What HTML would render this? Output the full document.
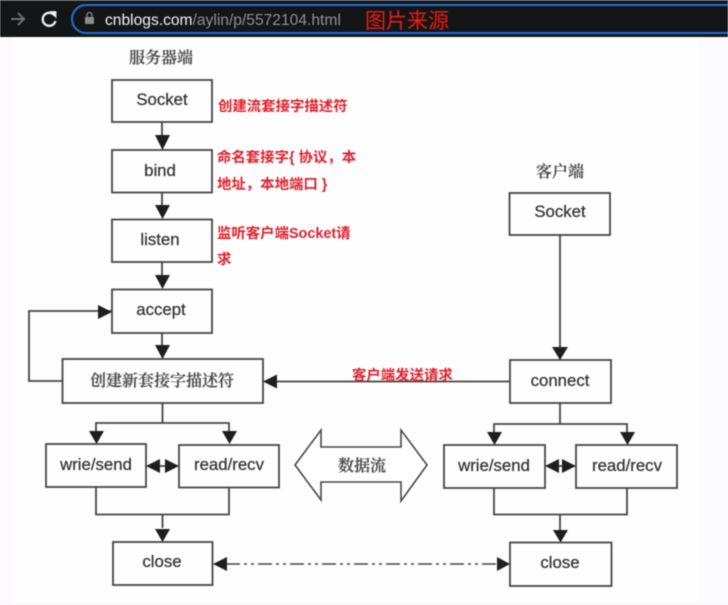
<!DOCTYPE html>
<html><head><meta charset="utf-8">
<style>
html,body{margin:0;padding:0;background:#fff}
svg{display:block}
.b{filter:blur(.5px)}
.l{font-family:"Liberation Sans",sans-serif;font-size:16.8px;fill:#333;stroke:#333;stroke-width:.25px;text-anchor:middle}
.c{font-family:"Noto Serif CJK SC","Noto Sans CJK SC",serif;font-size:16px;fill:#4a4a4a;stroke:#4a4a4a;stroke-width:.2px;text-anchor:middle;font-weight:600}
.r{font-family:"Liberation Sans","Noto Sans CJK SC",sans-serif;font-size:14.400px;font-weight:700;fill:#e0202c}
</style></head>
<body>
<svg width="728" height="605" viewBox="0 0 728 605" xmlns="http://www.w3.org/2000/svg">
<rect width="728" height="605" fill="#fefefe"/>
<rect x="0" y="37" width="13" height="568" fill="#fcfafc"/>
<rect x="699" y="37" width="29" height="568" fill="#fcfcfe"/>
<rect x="0" y="602" width="728" height="3" fill="#fbf9fb"/>
<g class="b">
<!-- browser bar -->
<rect width="728" height="37" fill="#141516"/>
<rect width="728" height="1" fill="#444"/>
<path d="M11 19H23M18 13L24 19L18 25" fill="none" stroke="#6f7072" stroke-width="2"/>
<path d="M54.5 15.500A6.500 6.500 0 1 0 55.500 21" fill="none" stroke="#f1f1f1" stroke-width="2.300"/>
<path d="M50.500 11.500L56 11.500L56 17.500Z" fill="#f1f1f1" stroke="#f1f1f1" stroke-width=".8"/>
<path d="M86 5H728M86 33H728" stroke="#1f6fdc" stroke-width="2"/>
<path d="M86 5A14 14 0 0 0 86 33" fill="none" stroke="#1f6fdc" stroke-width="2"/>
<rect x="85" y="17" width="9" height="7" rx="1" fill="#8b8c8e"/>
<path d="M87 17V15A2.400 2.400 0 0 1 92 15V17" fill="none" stroke="#8b8c8e" stroke-width="1.200"/>
<text x="105" y="25" font-family="Liberation Sans,sans-serif" font-size="15.600" fill="#f3f3f3">cnblogs.com<tspan fill="#8f9092">/aylin/p/5572104.html</tspan></text>
<text x="365" y="28" font-family="Noto Sans CJK SC,sans-serif" font-size="21" fill="#f01a10">图片来源</text>
<!-- boxes -->
<g fill="none" stroke="#454545" stroke-width="1.800">
<rect x="112" y="80" width="100" height="42"/>
<rect x="112" y="150" width="100" height="42.500"/>
<rect x="112" y="219.500" width="100" height="42.500"/>
<rect x="112" y="289.500" width="100" height="43.500"/>
<rect x="62.500" y="359" width="200.500" height="44"/>
<rect x="46" y="444" width="100" height="43"/>
<rect x="179" y="445" width="100" height="42.500"/>
<rect x="113" y="542" width="99.500" height="43"/>
<rect x="509.500" y="193" width="100.500" height="42"/>
<rect x="510" y="360" width="101" height="43"/>
<rect x="444" y="445" width="101" height="43"/>
<rect x="576" y="445" width="101" height="43"/>
<rect x="510" y="542.500" width="101.500" height="43.500"/>
<!-- connectors -->
<path d="M162 122V135M162 192V205M162 262V275M162 333V345"/>
<path d="M112 311H29V381H62"/>
<path d="M510 381.500H277"/>
<path d="M162.500 403V423M96 438V423H229V438"/>
<path d="M96 487V514.500H229V487M162.500 514.500V528"/>
<path d="M560 235V347"/>
<path d="M560 403V424M494 438V424H627V438"/>
<path d="M494 488V514.500H627V488M560 514.500V530"/>
<path d="M158 466H167M556 466H565"/>
<path d="M226 564H498" stroke-dasharray="14 4 3 4 3 4" stroke-width="1.500"/>
</g>
<!-- arrowheads -->
<g fill="#1e1e1e">
<path d="M155 135H170L162.500 150Z"/>
<path d="M155 205H170L162.500 219Z"/>
<path d="M155 275H170L162.500 289Z"/>
<path d="M155 345H170L162.500 359Z"/>
<path d="M98 305V319L112 312Z"/>
<path d="M263 381.500L277 374.500V388.500Z"/>
<path d="M89 431H104L96.500 444Z"/>
<path d="M222 431H237L229.500 444Z"/>
<path d="M146 466L160 459V473Z"/>
<path d="M179 466L165 459V473Z"/>
<path d="M155 529H170L162.500 542Z"/>
<path d="M552 347H568L560 360Z"/>
<path d="M487 432H502L494.500 445Z"/>
<path d="M620 432H635L627.500 445Z"/>
<path d="M545 466L559 459V473Z"/>
<path d="M576 466L562 459V473Z"/>
<path d="M553 530H568L560.500 542.500Z"/>
<path d="M213 564L227 557V571Z"/>
<path d="M510 564L497 557V571Z"/>
</g>
<!-- data flow arrow -->
<path d="M295 465L321 430V447H401V430L427 465L401 501V482H321V500Z" fill="#fff" stroke="#484848" stroke-width="1.600"/>
<!-- labels -->
<text class="l" x="162" y="105">Socket</text>
<text class="l" x="160" y="176">bind</text>
<text class="l" x="160" y="245">listen</text>
<text class="l" x="161" y="315">accept</text>
<text class="l" x="96" y="470">wrie/send</text>
<text class="l" x="229" y="470">read/recv</text>
<text class="l" x="162" y="567">close</text>
<text class="l" x="560" y="217">Socket</text>
<text class="l" x="560" y="386">connect</text>
<text class="l" x="494" y="471">wrie/send</text>
<text class="l" x="627" y="471">read/recv</text>
<text class="l" x="560" y="568">close</text>
<text class="c" x="161" y="63">服务器端</text>
<text class="c" x="560" y="177">客户端</text>
<text class="c" x="162" y="386">创建新套接字描述符</text>
<text class="c" x="362" y="471">数据流</text>
<text class="r" x="218" y="111">创建流套接字描述符</text>
<text class="r" x="217" y="162">命名套接字{ 协议，本</text>
<text class="r" x="217" y="189">地址，本地端口 }</text>
<text class="r" x="217" y="238">监听客户端Socket请</text>
<text class="r" x="217" y="264">求</text>
<text class="r" x="352" y="380">客户端发送请求</text>
</g>
</svg>
</body></html>
